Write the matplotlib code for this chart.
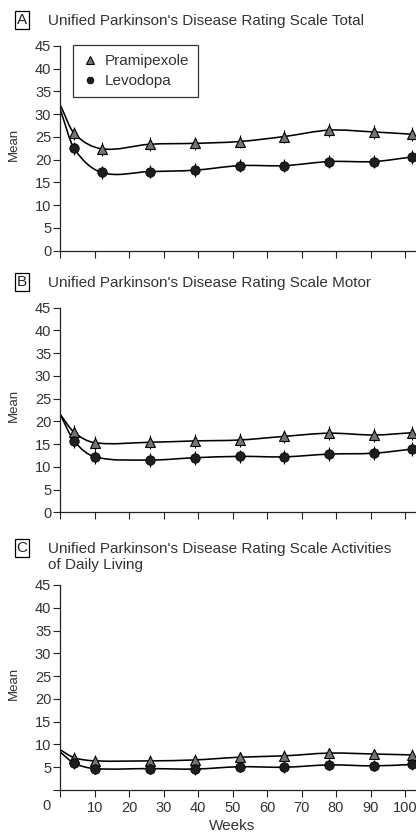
import numpy as np
import matplotlib
matplotlib.use("Agg")
import matplotlib.pyplot as plt
from matplotlib.path import Path
from matplotlib.patches import PathPatch
from matplotlib.transforms import ScaledTranslation

plt.rcParams['font.family'] = ['Liberation Sans', 'DejaVu Sans']

# ---------------- data ----------------
weeks_a = [0, 4, 12, 26, 39, 52, 65, 78, 91, 102]
weeks_bc = [0, 4, 10, 26, 39, 52, 65, 78, 91, 102]

total_prami = [32.0, 25.8, 22.4, 23.4, 23.6, 24.0, 25.1, 26.5, 26.1, 25.6]
total_levo = [31.0, 22.5, 17.2, 17.4, 17.7, 18.7, 18.7, 19.6, 19.6, 20.6]

motor_prami = [21.5, 17.6, 15.3, 15.4, 15.7, 15.9, 16.7, 17.4, 17.0, 17.5]
motor_levo = [21.5, 15.7, 12.2, 11.5, 12.0, 12.3, 12.2, 12.8, 13.0, 13.9]

adl_prami = [8.8, 7.1, 6.4, 6.4, 6.6, 7.2, 7.5, 8.1, 7.9, 7.7]
adl_levo = [8.3, 5.9, 4.7, 4.7, 4.6, 5.1, 5.0, 5.5, 5.3, 5.6]

err_total = 1.5
err_motor = 1.5
err_adl = 1.2

panel_letters = ["A", "B", "C"]
panel_titles = [
    "Unified Parkinson's Disease Rating Scale Total",
    "Unified Parkinson's Disease Rating Scale Motor",
    "Unified Parkinson's Disease Rating Scale Activities\nof Daily Living",
]
series_names = ["Pramipexole", "Levodopa"]
y_ticks = [0, 5, 10, 15, 20, 25, 30, 35, 40, 45]
x_ticks = [0, 10, 20, 30, 40, 50, 60, 70, 80, 90, 100]

panels = [
    (weeks_a, total_prami, total_levo, err_total),
    (weeks_bc, motor_prami, motor_levo, err_motor),
    (weeks_bc, adl_prami, adl_levo, err_adl),
]

# ---------------- drawing helpers ----------------
def smooth_path(x, y):
    """Cubic Bezier through the data points (cardinal tangents)."""
    x = np.asarray(x, float)
    y = np.asarray(y, float)
    n = len(x)
    m = np.zeros(n)
    for i in range(n):
        if i == 0:
            m[i] = (y[1] - y[0]) / (x[1] - x[0])
        elif i == n - 1:
            m[i] = (y[-1] - y[-2]) / (x[-1] - x[-2])
        else:
            m[i] = (y[i + 1] - y[i - 1]) / (x[i + 1] - x[i - 1])
    verts = [(x[0], y[0])]
    codes = [Path.MOVETO]
    for i in range(n - 1):
        h = x[i + 1] - x[i]
        verts += [(x[i] + h / 3, y[i] + m[i] * h / 3),
                  (x[i + 1] - h / 3, y[i + 1] - m[i + 1] * h / 3),
                  (x[i + 1], y[i + 1])]
        codes += [Path.CURVE4] * 3
    return Path(verts, codes)


W, H = 416, 833
fig = plt.figure(figsize=(W / 100, H / 100), dpi=100)

# axes placement in pixels: (top of 45, y of 0)
boxes = [(46, 250.7), (307.7, 512.3), (585, 790)]
# title placement in pixels: (letter-box centre, baseline of last title line)
title_pos = [(20, 25.5), (282, 287.5), (548, 568.5)]
left_px = 60.3
right_px = 416
px_per_week = 3.447
xmax = (right_px - left_px) / px_per_week

tri_color = "#747474"
dot_color = "#1e1e1e"
txt_color = "#333333"
tick_fs = 10.5
text_fs = 11

for idx, ((wx, yp, yl, err), (top, bot)) in enumerate(zip(panels, boxes)):
    ax_h = bot - top
    ax = fig.add_axes([left_px / W, 1 - bot / H, (right_px - left_px) / W, ax_h / H])
    ax.set_xlim(0, xmax)
    ax.set_ylim(0, 45)
    for s in ["top", "right"]:
        ax.spines[s].set_visible(False)
    for s in ["left", "bottom"]:
        ax.spines[s].set_linewidth(0.9)
        ax.spines[s].set_color("#222222")
    ax.set_yticks(y_ticks)
    ax.set_xticks(x_ticks)
    ax.tick_params(axis="both", direction="out", length=5, width=0.8,
                   labelsize=tick_fs, colors="#222222", labelcolor=txt_color, pad=1.5)

    if idx < 2:
        ax.set_xticklabels([])
    else:
        ax.set_yticklabels([""] + [str(v) for v in y_ticks[1:]])
        ax.set_xticklabels([""] + [str(v) for v in x_ticks[1:]])
        ax.tick_params(axis="x", pad=3)
        ax.text(-13.6 / px_per_week, 0, "0", ha="center", va="top",
                fontsize=tick_fs, color=txt_color,
                transform=ax.transData + ScaledTranslation(0, -8.5 / 100, fig.dpi_scale_trans))
        ax.set_xlabel("Weeks", fontsize=text_fs, color=txt_color)
        ax.xaxis.set_label_coords((232 - left_px) / (right_px - left_px), -(819 - bot) / ax_h)

    ax.set_ylabel("Mean", fontsize=9.5, color=txt_color)
    ax.yaxis.set_label_coords((19.5 - left_px) / (right_px - left_px), 0.52)

    # smooth lines
    for yy in (yp, yl):
        ax.add_patch(PathPatch(smooth_path(wx, yy), fill=False, edgecolor="black",
                               linewidth=1.15, zorder=2))

    # error bars + markers (baseline week 0 has no marker)
    ax.errorbar(wx[1:], yp[1:], yerr=err, fmt="none", ecolor="black",
                elinewidth=0.8, capsize=0, zorder=3)
    ax.errorbar(wx[1:], yl[1:], yerr=err, fmt="none", ecolor="black",
                elinewidth=0.8, capsize=0, zorder=3)
    ax.plot(wx[1:], yp[1:], linestyle="none", marker="^", markersize=7.5,
            markerfacecolor=tri_color, markeredgecolor="black", markeredgewidth=0.8,
            zorder=4, label=series_names[0], clip_on=False)
    ax.plot(wx[1:], yl[1:], linestyle="none", marker="o", markersize=6.8,
            markerfacecolor=dot_color, markeredgecolor="black", markeredgewidth=0.6,
            zorder=4, label=series_names[1], clip_on=False)

    if idx == 0:
        leg = ax.legend(loc="upper left",
                        bbox_to_anchor=((73 - left_px) / (right_px - left_px), (bot - 45) / ax_h),
                        frameon=True, fancybox=False, fontsize=text_fs, handlelength=1.0,
                        handletextpad=0.45, borderpad=0.6, labelspacing=0.38,
                        borderaxespad=0, markerscale=0.7)
        leg.get_frame().set_edgecolor("black")
        leg.get_frame().set_linewidth(0.9)
        for t in leg.get_texts():
            t.set_color(txt_color)

    # panel title with boxed letter
    box_y, base_y = title_pos[idx]
    fig.text(22 / W, 1 - box_y / H, panel_letters[idx], ha="center", va="center",
             fontsize=text_fs, color="#222222",
             bbox=dict(boxstyle="square,pad=0.12", facecolor="white", edgecolor="black",
                       linewidth=0.9))
    fig.text(48 / W, 1 - base_y / H, panel_titles[idx], ha="left",
             va="baseline", fontsize=text_fs, color=txt_color, linespacing=1.1)

fig.savefig("out.png", dpi=100)
